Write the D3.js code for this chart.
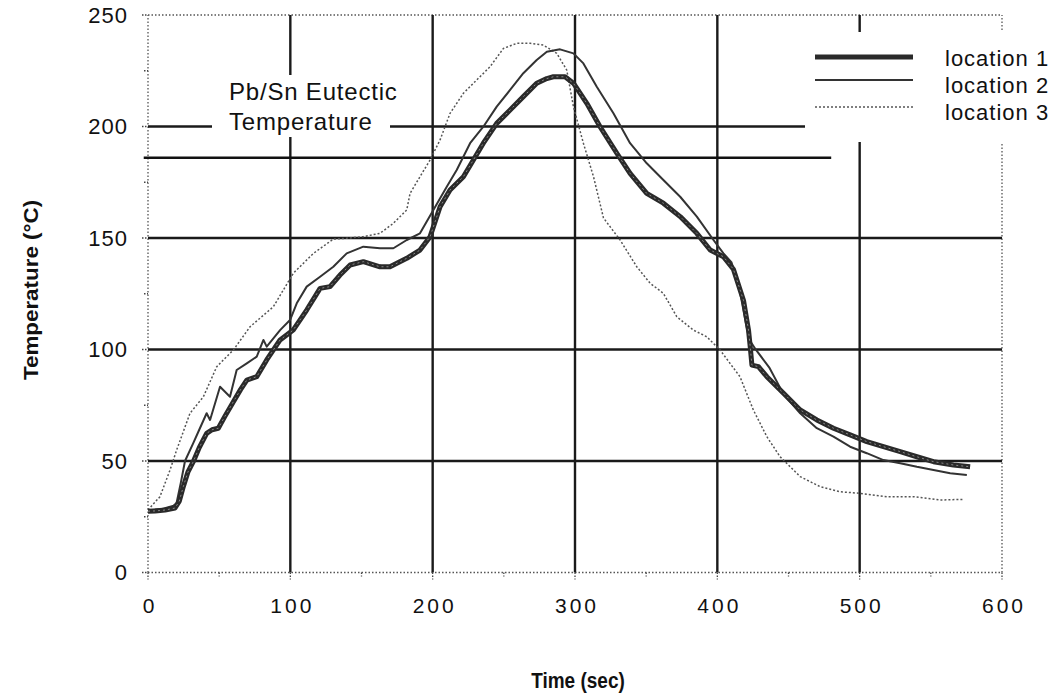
<!DOCTYPE html>
<html>
<head>
<meta charset="utf-8">
<script src="https://cdn.jsdelivr.net/npm/d3@7"></script>
<style>
  html, body { margin: 0; padding: 0; background: #fff; }
  svg { display: block; font-family: "Liberation Sans", Arial, Helvetica, sans-serif; }
</style>
</head>
<body>
<svg id="chart" width="1061" height="696"></svg>
<script>
// ---- data ----
const seriesNames = ["location 1", "location 2", "location 3"];

const loc1Time = [0,5,12,19,22,24.8,28,31.8,36,41.2,45,49.4,54,60,65,69.4,76.4,83.4,92.8,102,111.5,120.9,127.9,134.9,142,151.3,163,170,181.8,191.1,198.2,205.2,212.2,221.6,228.6,235.6,245,254.4,263.7,273.1,280.2,284.8,293,298.9,308.3,317.6,329.4,338.7,350.4,362.1,373.9,385.6,395,404.3,411.3,418.4,421.9,423.1,424.3,428.9,434.8,446.5,458.2,469.9,481.6,493.3,505,516.7,528.5,540.2,551.9,565.9,577.6];
const loc1Temp = [27.5,27.6,28,28.9,32,38.5,45,49.7,56,62.4,64,64.7,70,76.6,82,86.3,87.8,95.3,104.3,108.7,117.7,127.4,128.2,133.4,137.9,139.4,137.1,137.1,140.9,144.6,150.6,164,171.5,177.5,185,192.5,201.4,207.4,213.4,219.4,221.5,222.3,222.3,219.4,210.4,199.9,188,179,170,165.6,159.6,152.1,144.6,141.6,136,122,108.7,101.3,93,92.3,87.8,80.4,72.9,68.4,64.7,61.7,58.7,56.4,54.2,51.9,49.7,48.2,47.4];

const loc2Time = [0,10,18,20,23,26,31.8,36,41.2,43.6,50.6,57.6,62.3,69.4,76.4,81.1,83.4,92.8,99.8,104.5,111.5,120.9,130.2,139.6,151.3,163,172.4,181.8,191.1,200.5,209.9,216.9,226.3,235.6,245,254.4,263.7,273.1,280.2,289.5,298.9,305.9,315.3,327,338.7,350.4,362.1,373.9,385.6,397.3,404.3,410,415.3,420,422.5,427.2,436.4,446.5,458.2,469.9,481.6,493.3,505,516.7,528.5,540.2,551.9,563.6,575.3];
const loc2Temp = [28,28.5,30,31,40,50,58,64,71.4,68.4,83.3,78.8,90.8,93.8,96.8,104.3,101.3,108.7,113.2,120.7,128.2,132.6,137.1,143.1,146.1,145.4,145.4,149.1,152.1,162.6,173,180.5,192.5,199.9,208.9,216.4,223.9,229.8,233.5,234.6,232.8,228.3,217.8,205.9,192.5,183.5,176,168.5,159.6,149.1,143.1,139,128,112,104.3,99.8,92,80,71.4,64.7,60.9,56.4,53.5,50.4,49,47.4,46,44.5,43.7];

const loc3Time = [0,8.4,15.5,20.1,29.5,38.9,48.3,60,71.7,88.1,102.1,116.2,130.2,139.6,151.3,163,172.4,181.8,184.1,191.1,198.2,205.2,212.2,221.6,231,240.3,249.7,259.1,268.5,277.8,287.2,294.2,298.9,305.9,313,320,331.7,343.4,352.8,362.1,371.5,383.2,392.6,401.9,415.9,425.3,434.8,444.1,458.2,472.2,486.3,500.4,519.1,537.8,556.6,573];
const loc3Temp = [28,34,46,54.9,71.4,78.8,92.3,99.8,110.2,119.2,134.2,143.1,149.5,149.9,150.6,152.1,156.6,162.6,170,177.5,185,194,205.9,214.9,220.9,226.8,235,237.3,237.3,236.5,232.8,225.3,208.9,192.5,177.5,159,149.1,137.1,129.7,125.2,114.7,108.7,105.7,99.8,87.8,72.9,60.9,51.9,43,38.5,36.2,35.5,34,34,32.5,32.8];

const eutecticTemp = 186;
const eutecticSpan = [-3, 480];

const xTicks = [0,100,200,300,400,500,600];
const yTicks = [0,50,100,150,200,250];
const xMinor = [50,150,250,350,450,550];
const yMinor = [25,75,125,175,225];

// ---- layout ----
const svg = d3.select("#chart");
const x = d3.scaleLinear().domain([0,600]).range([148,1002]);
const y = d3.scaleLinear().domain([0,250]).range([572.5,15]);

// border (dotted)
const border = svg.append("g").attr("stroke","#555").attr("stroke-width",1.3).attr("stroke-dasharray","1.5,2").attr("fill","none");
border.append("line").attr("x1",x(0)).attr("x2",x(600)).attr("y1",y(250)).attr("y2",y(250));
border.append("line").attr("x1",x(0)).attr("x2",x(600)).attr("y1",y(0)).attr("y2",y(0));
border.append("line").attr("x1",x(0)).attr("x2",x(0)).attr("y1",y(0)).attr("y2",y(250));
border.append("line").attr("x1",x(600)).attr("x2",x(600)).attr("y1",y(0)).attr("y2",y(250));

// inner grid (dark)
const grid = svg.append("g").attr("stroke","#1a1a1a").attr("stroke-width",2.4);
grid.selectAll("line.v").data(xTicks.filter(d => d>0 && d<600)).join("line")
  .attr("x1",d=>x(d)).attr("x2",d=>x(d)).attr("y1",y(0)).attr("y2",y(250));
grid.selectAll("line.h").data(yTicks.filter(d => d>0 && d<250)).join("line")
  .attr("x1",x(0)).attr("x2",x(600)).attr("y1",d=>y(d)).attr("y2",d=>y(d));

// ticks
const tk = svg.append("g").attr("stroke","#444").attr("stroke-width",1.3).attr("stroke-dasharray","1.5,1.5");
tk.selectAll("line.yt").data(yTicks).join("line")
  .attr("x1",x(0)-6).attr("x2",x(0)).attr("y1",d=>y(d)).attr("y2",d=>y(d));
tk.selectAll("line.ym").data(yMinor).join("line")
  .attr("x1",x(0)-4).attr("x2",x(0)).attr("y1",d=>y(d)).attr("y2",d=>y(d));
tk.selectAll("line.xt").data(xTicks).join("line")
  .attr("x1",d=>x(d)).attr("x2",d=>x(d)).attr("y1",y(0)).attr("y2",y(0)+7);
tk.selectAll("line.xm").data(xMinor).join("line")
  .attr("x1",d=>x(d)).attr("x2",d=>x(d)).attr("y1",y(0)).attr("y2",y(0)+4);

// white gaps for annotation and legend
svg.append("rect").attr("x",212).attr("y",75).attr("width",178).attr("height",62).attr("fill","#fff");
svg.append("rect").attr("x",805).attr("y",32).attr("width",256).attr("height",110).attr("fill","#fff");

// eutectic line
svg.append("line").attr("x1",x(eutecticSpan[0])).attr("x2",x(eutecticSpan[1]))
  .attr("y1",y(eutecticTemp)).attr("y2",y(eutecticTemp))
  .attr("stroke","#111").attr("stroke-width",2.6);

// curves
const line = d3.line().x(d=>x(d[0])).y(d=>y(d[1]));
const zip = (a,b) => a.map((v,i)=>[v,b[i]]);
const styles = [
  {stroke:"#2a2a2a", width:5, dash:null},
  {stroke:"#333", width:2, dash:null},
  {stroke:"#555", width:1.5, dash:"2,2"}
];
const data = [zip(loc3Time,loc3Temp), zip(loc2Time,loc2Temp), zip(loc1Time,loc1Temp)];
const order = [2,1,0];
data.forEach((pts,i) => {
  const s = styles[order[i]];
  svg.append("path").attr("d",line(pts)).attr("fill","none")
    .attr("stroke",s.stroke).attr("stroke-width",s.width)
    .attr("stroke-linejoin","round")
    .attr("stroke-dasharray",s.dash);
});
// inner texture for location 1
svg.append("path").attr("d",line(zip(loc1Time,loc1Temp))).attr("fill","none")
  .attr("stroke","#8a8a8a").attr("stroke-width",1).attr("stroke-dasharray","2,3");

// tick labels
svg.append("g").selectAll("text").data(yTicks).join("text")
  .attr("x",128).attr("y",d=>y(d)).attr("dy","0.36em")
  .attr("text-anchor","end").attr("font-size",22).attr("letter-spacing",1)
  .attr("fill","#111").text(d=>d);
svg.append("g").selectAll("text").data(xTicks).join("text")
  .attr("x",d=>x(d)+2).attr("y",613)
  .attr("text-anchor","middle").attr("font-size",21).attr("letter-spacing",3)
  .attr("fill","#111").text(d=>d);

// axis titles
svg.append("text").attr("transform","translate(38,290) scale(1,1.12) rotate(-90)")
  .attr("text-anchor","middle").attr("font-size",20).attr("font-weight","bold")
  .attr("fill","#111").text("Temperature (°C)");
svg.append("text").attr("transform","translate(578,688) scale(1,1.15)")
  .attr("text-anchor","middle").attr("font-size",19).attr("font-weight","bold")
  .attr("fill","#111").text("Time (sec)");

// annotation
svg.append("text").attr("x",229).attr("y",100).attr("font-size",24).attr("letter-spacing",0.8).attr("fill","#111").text("Pb/Sn Eutectic");
svg.append("text").attr("x",229).attr("y",130).attr("font-size",24).attr("letter-spacing",0.8).attr("fill","#111").text("Temperature");

// legend
const legY = [57,80,107];
const legTextY = [66,93,120];
const leg = svg.append("g");
seriesNames.forEach((name,i) => {
  const s = styles[i];
  leg.append("line").attr("x1",815).attr("x2",913).attr("y1",legY[i]).attr("y2",legY[i])
    .attr("stroke",s.stroke).attr("stroke-width",s.width).attr("stroke-dasharray",s.dash);
  leg.append("text").attr("x",945).attr("y",legTextY[i]).attr("font-size",22).attr("letter-spacing",1)
    .attr("fill","#111").text(name);
});
</script>
</body>
</html>
